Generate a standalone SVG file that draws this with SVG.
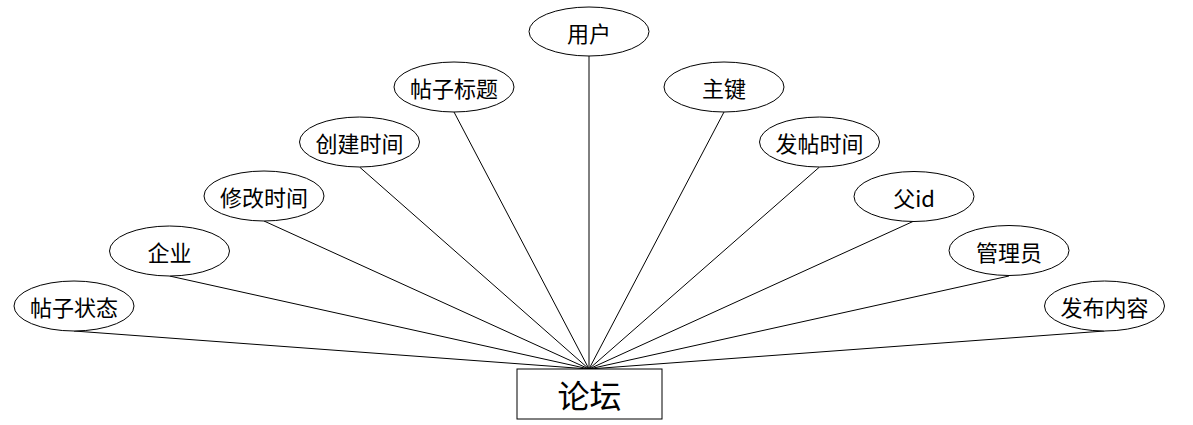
<svg xmlns="http://www.w3.org/2000/svg" width="1193" height="425" viewBox="0 0 1193 425">
<style>
.attr ellipse{fill:#fff;stroke:#000;stroke-width:1}
.attr text{font-family:"Noto Sans CJK SC","Microsoft YaHei",sans-serif;font-size:22px;text-anchor:middle;dominant-baseline:central;fill:#000}
.ent rect{fill:#fff;stroke:#000;stroke-width:1}
.ent text{font-family:"Noto Sans CJK SC",sans-serif;font-size:32px;text-anchor:middle;dominant-baseline:central;fill:#000}
#connectors line{stroke:#000;stroke-width:1}
</style>
<rect width="1193" height="425" fill="#fff"/>
<g id="connectors">
<line x1="74" y1="331" x2="589" y2="369"/>
<line x1="169.5" y1="276" x2="589" y2="369"/>
<line x1="264" y1="221" x2="589" y2="369"/>
<line x1="359.5" y1="167" x2="589" y2="369"/>
<line x1="454" y1="112" x2="589" y2="369"/>
<line x1="589" y1="56" x2="589" y2="369"/>
<line x1="724" y1="112" x2="589" y2="369"/>
<line x1="819.5" y1="167" x2="589" y2="369"/>
<line x1="914" y1="221" x2="589" y2="369"/>
<line x1="1009" y1="276" x2="589" y2="369"/>
<line x1="1104.5" y1="331" x2="589" y2="369"/>
</g>
<g id="n-status" class="attr"><ellipse cx="74" cy="306" rx="60" ry="25"/><text x="74" y="306">帖子状态</text></g>
<g id="n-company" class="attr"><ellipse cx="169.5" cy="251" rx="60" ry="25"/><text x="169.5" y="251">企业</text></g>
<g id="n-modified" class="attr"><ellipse cx="264" cy="196" rx="60" ry="25"/><text x="264" y="196">修改时间</text></g>
<g id="n-created" class="attr"><ellipse cx="359.5" cy="142" rx="60" ry="25"/><text x="359.5" y="142">创建时间</text></g>
<g id="n-title" class="attr"><ellipse cx="454" cy="87" rx="60" ry="25"/><text x="454" y="87">帖子标题</text></g>
<g id="n-user" class="attr"><ellipse cx="589" cy="31.5" rx="60" ry="24.5"/><text x="589" y="31.5">用户</text></g>
<g id="n-pk" class="attr"><ellipse cx="724" cy="87" rx="60" ry="25"/><text x="724" y="87">主键</text></g>
<g id="n-posttime" class="attr"><ellipse cx="819.5" cy="142" rx="60" ry="25"/><text x="819.5" y="142">发帖时间</text></g>
<g id="n-parent" class="attr"><ellipse cx="914" cy="196.5" rx="60" ry="25"/><text x="914" y="196.5">父id</text></g>
<g id="n-admin" class="attr"><ellipse cx="1009" cy="250.5" rx="60" ry="25"/><text x="1009" y="250.5">管理员</text></g>
<g id="n-content" class="attr"><ellipse cx="1104.5" cy="306" rx="60" ry="25"/><text x="1104.5" y="306">发布内容</text></g>
<g id="n-forum" class="ent"><rect x="517" y="369" width="145" height="50"/><text x="589.5" y="394">论坛</text></g>
</svg>
